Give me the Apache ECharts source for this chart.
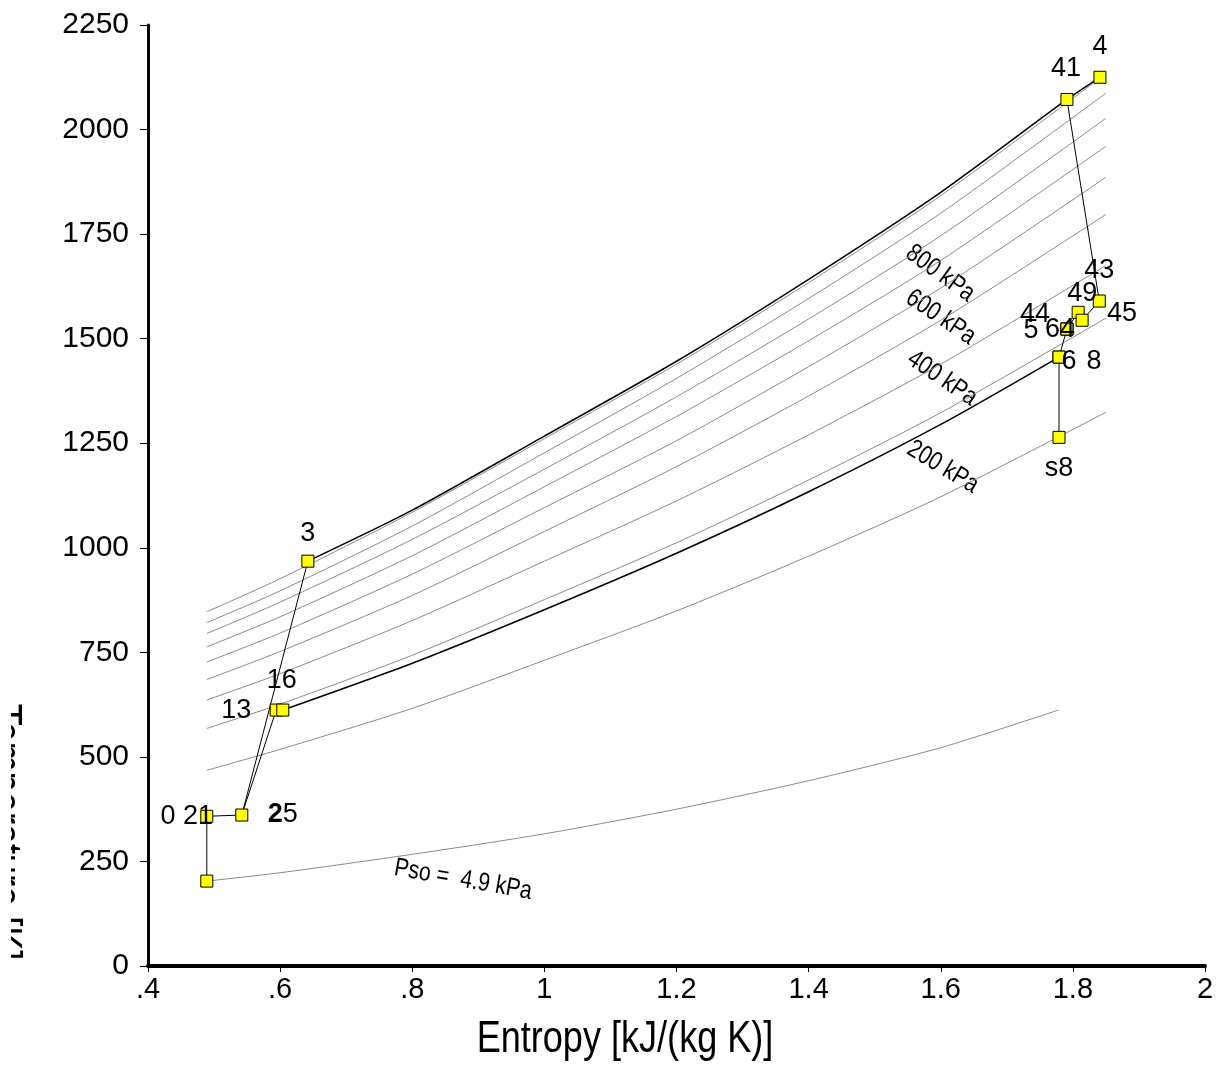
<!DOCTYPE html>
<html>
<head>
<meta charset="UTF-8">
<title>T-s diagram</title>
<script src="https://cdn.jsdelivr.net/npm/echarts@6/dist/echarts.min.js"></script>
<style>
  html, body { margin: 0; padding: 0; background: #fff; }
  #main { width: 1220px; height: 1070px; }
</style>
</head>
<body>
<div id="main"></div>
<script type="text/javascript">
    var FONT = '"Liberation Sans", Arial, sans-serif';
    var NARROW = 0.82; // squeeze for the condensed look of the original

    // entropy grid the isobars were read at
    var isobarS = [0.489, 0.6, 0.8, 1.0, 1.2, 1.4, 1.6, 1.85];
    // isobar temperatures, top (highest pressure) to bottom
    var isobar1 = [847, 926, 1085, 1261, 1439, 1634, 1842, 2134];
    var isobar2 = [821, 897, 1052, 1227, 1405, 1596, 1800, 2087];
    var isobar3 = [795, 870, 1020, 1188, 1361, 1547, 1746, 2027];
    var isobar4 = [763, 835, 981, 1146, 1314, 1495, 1687, 1960];
    var isobar5 = [727, 796, 937, 1096, 1256, 1433, 1621, 1886];
    var isobar6 = [685, 752, 886, 1039, 1194, 1363, 1544, 1797];
    var isobar7 = [636, 699, 826, 968, 1112, 1270, 1439, 1675];
    var isobar8 = [568, 626, 743, 876, 1012, 1162, 1323, 1549];
    var isobar9 = [468, 518, 616, 731, 849, 980, 1122, 1324];

    // Pso = 4.9 kPa line
    var psoS = [0.489, 0.6, 0.8, 1.0, 1.2, 1.4, 1.6, 1.778];
    var psoT = [203, 223, 267, 316, 375, 443, 522, 612];

    // cycle: heat addition 3 -> 41 -> 4
    var hotS = [0.642, 0.8, 1.0, 1.2, 1.4, 1.6, 1.791, 1.841];
    var hotT = [968, 1090, 1267, 1446, 1642, 1850, 2072, 2125];

    // cycle: 16 -> 6
    var midS = [0.604, 0.8, 1.0, 1.2, 1.4, 1.6, 1.779];
    var midT = [612, 724, 852, 987, 1134, 1295, 1456];

    // state points
    var stateNames = ['', '0 21', '25', '13', '16', '3', '41', '4', '43', '49', '45', '44', '5', '64', '6', '8', 's8'];
    var stateS = [0.489, 0.489, 0.542, 0.594, 0.604, 0.642, 1.791, 1.841, 1.840, 1.808, 1.814, 1.791, 1.791, 1.791, 1.779, 1.779, 1.779];
    var stateT = [203, 358, 361, 612, 612, 968, 2072, 2125, 1590, 1563, 1544, 1523, 1523, 1523, 1456, 1456, 1264];

    // straight connections between states (indices)
    var paths = [
        [0, 1, 2, 3, 4],
        [2, 5],
        [6, 8, 10, 9, 11, 14, 16]
    ];

    // isobar captions: text, s, T, angle
    var captions = [
        ['800 kPa', 1.599, 1656, -36],
        ['600 kPa', 1.600, 1551, -34],
        ['400 kPa', 1.602, 1405, -34],
        ['200 kPa', 1.603, 1193, -31],
        ['Pso =  4.9 kPa', 0.877, 206, -10]
    ];

    // where each state number sits relative to its square
    var labelOffset = {
        '0 21': [-20, 0], '25': [41, 0], '13': [-40, 0], '16': [-1, -30], '3': [0, -28],
        '41': [-1, -31], '4': [0, -31], '43': [0, -30], '49': [4, -19], '45': [40, -7],
        '44': [-32, -15], '5': [-36, 1], '64': [-7, 0], '6': [10, 4], '8': [35, 4], 's8': [0, 31]
    };

    function pairs(xs, ys) {
        var out = [];
        for (var i = 0; i < xs.length; i++) out.push([xs[i], ys[i]]);
        return out;
    }

    var series = [];
    [isobar1, isobar2, isobar3, isobar4, isobar5, isobar6, isobar7, isobar8, isobar9].forEach(function (arr) {
        series.push({
            type: 'line', data: pairs(isobarS, arr), showSymbol: false, smooth: 0.25,
            silent: true, lineStyle: { color: '#8a8a8a', width: 1 }, z: 2
        });
    });
    series.push({
        type: 'line', data: pairs(psoS, psoT), showSymbol: false, smooth: 0.25,
        silent: true, lineStyle: { color: '#8a8a8a', width: 1 }, z: 2
    });
    series.push({
        type: 'line', data: pairs(hotS, hotT), showSymbol: false, smooth: 0.25,
        silent: true, lineStyle: { color: '#000', width: 1.5 }, z: 3
    });
    series.push({
        type: 'line', data: pairs(midS, midT), showSymbol: false, smooth: 0.25,
        silent: true, lineStyle: { color: '#000', width: 1.6 }, z: 3
    });
    paths.forEach(function (p) {
        series.push({
            type: 'line', showSymbol: false, silent: true,
            data: p.map(function (i) { return [stateS[i], stateT[i]]; }),
            lineStyle: { color: '#000', width: 1 }, z: 3
        });
    });
    series.push({
        type: 'scatter', symbol: 'rect', symbolSize: 12, z: 5,
        itemStyle: { color: '#ffff00', borderColor: '#000', borderWidth: 1, opacity: 1 },
        label: {
            show: true, position: 'inside', color: '#000', fontSize: 27, fontFamily: FONT,
            formatter: function (p) { return p.name === '25' ? '{b|2}5' : p.name; },
            rich: { b: { fontSize: 27, fontWeight: 'bold', fontFamily: FONT, color: '#000' } }
        },
        data: stateNames.map(function (n, i) {
            return { name: n, value: [stateS[i], stateT[i]], label: { offset: labelOffset[n] || [0, 0] } };
        })
    });

    var myChart = echarts.init(document.getElementById('main'));
    myChart.setOption({
        animation: false,
        backgroundColor: '#fff',
        grid: { left: 148, right: 15, top: 25, bottom: 104 },
        xAxis: {
            type: 'value', min: 0.4, max: 2, interval: 0.2,
            axisLine: { onZero: false, lineStyle: { color: '#000', width: 4 } },
            axisTick: { length: 6, lineStyle: { color: '#000', width: 1 } },
            axisLabel: {
                color: '#000', fontSize: 29, fontFamily: FONT, margin: 9,
                formatter: function (v) { return String(Math.round(v * 10) / 10).replace(/^0\./, '.'); }
            },
            splitLine: { show: false }
        },
        yAxis: {
            type: 'value', min: 0, max: 2250, interval: 250,
            axisLine: { lineStyle: { color: '#000', width: 3 } },
            axisTick: { length: 8, lineStyle: { color: '#000', width: 1 } },
            axisLabel: {
                color: '#000', fontSize: 30, fontFamily: FONT, margin: 19,
                formatter: function (v) { return String(v); }
            },
            splitLine: { show: false }
        },
        series: series
    });

    var graphics = [];
    captions.forEach(function (c) {
        var px = myChart.convertToPixel('grid', [c[1], c[2]]);
        graphics.push({
            type: 'text', x: px[0], y: px[1], rotation: c[3] * Math.PI / 180, scaleX: NARROW, silent: true,
            style: { text: c[0], fill: '#000', font: '26px ' + FONT, align: 'center', verticalAlign: 'middle' }
        });
    });
    graphics.push({
        type: 'text', x: 625, y: 1040, scaleX: NARROW, silent: true,
        style: { text: 'Entropy [kJ/(kg K)]', fill: '#000', font: '44px ' + FONT, align: 'center', verticalAlign: 'middle' }
    });
    graphics.push({
        type: 'text', x: 25, y: 832, rotation: -Math.PI / 2, scaleX: NARROW, silent: true,
        style: { text: 'Temperature [K]', fill: '#000', font: '44px ' + FONT, align: 'center', verticalAlign: 'top' }
    });
    graphics.push({
        type: 'rect', shape: { x: 0, y: 660, width: 11, height: 340 }, silent: true, z: 100,
        style: { fill: '#fff' }
    });
    myChart.setOption({ graphic: graphics });
</script>
</body>
</html>
